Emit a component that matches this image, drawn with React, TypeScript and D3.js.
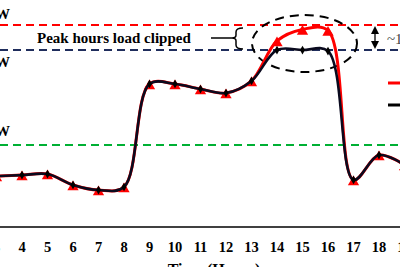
import React from "react";
import * as d3 from "d3";

const hours = [3, 4, 5, 6, 7, 8, 9, 10, 11, 12, 13, 14, 15, 16, 17, 18, 19];
const clippedLoad = [25.2, 25.7, 26.2, 20.8, 18.3, 19.8, 70.8, 70.8, 68.3, 66.3, 72.3, 87.6, 87.6, 87.1, 23.3, 35.6, 30.7];
const originalLoad = [25.2, 25.7, 26.2, 20.8, 18.3, 19.8, 70.8, 70.8, 68.3, 66.3, 72.3, 92.1, 97.8, 97.3, 23.3, 35.6, 30.7];
const tickLabels = ["3", "4", "5", "6", "7", "8", "9", "10", "11", "12", "13", "14", "15", "16", "17", "18", "19"];
const thresholds = [
  { value: 100, label: "100 kW", color: "#ff0000" },
  { value: 87.6, label: "87.6 kW", color: "#1f2d5c" },
  { value: 40.6, label: "40.6 kW", color: "#00b034" },
];
const annotationText = "Peak hours load clipped";
const axisTitle = "Time (Hours)";

const W = 400;
const H = 267;
const FONT = "'Liberation Serif', 'Times New Roman', serif";

export default function App() {
  const x = d3.scaleLinear().domain([4, 18]).range([22, 379]);
  const y = d3.scaleLinear().domain([0, 100]).range([227, 25]);
  const line = d3
    .line<number>()
    .x((_, i) => x(hours[i]))
    .y((d) => y(d))
    .curve(d3.curveCatmullRom.alpha(0.5));
  const tri = d3.symbol().type(d3.symbolTriangle).size(55)()!;
  const dia = d3.symbol().type(d3.symbolDiamond).size(22)()!;

  const axisY = y(0);
  const yRed = y(thresholds[0].value);
  const yNavy = y(thresholds[1].value);
  const arrowX = 375;

  return (
    <svg
      width={W}
      height={H}
      style={{ position: "absolute", left: 0, top: 0, display: "block" }}
      fontFamily={FONT}
    >
      <rect width={W} height={H} fill="#fff" />
      {thresholds.map((t, i) => (
        <g key={i}>
          <line
            x1={0}
            x2={W}
            y1={y(t.value)}
            y2={y(t.value)}
            stroke={t.color}
            strokeWidth={2}
            strokeDasharray="8,5"
          />
          <text
            x={10}
            y={y(t.value) - (i === 2 ? 9 : i === 1 ? -17 : 6)}
            textAnchor="end"
            fontSize={15}
            fontWeight="bold"
            fill="#000"
          >
            {t.label}
          </text>
        </g>
      ))}

      {/* annotation */}
      <text x={37} y={43} fontSize={15} fontWeight="bold" fill="#000">
        {annotationText}
      </text>
      <line x1={211} x2={232} y1={38} y2={38} stroke="#000" strokeWidth={1.5} />
      <path
        d="M243,28 Q236,28 236,32 L236,35 Q236,38 232,38 Q236,38 236,41 L236,45 Q236,49 243,49"
        fill="none"
        stroke="#000"
        strokeWidth={1.5}
      />
      <ellipse
        cx={304.5}
        cy={43.5}
        rx={52.5}
        ry={28.5}
        fill="none"
        stroke="#000"
        strokeWidth={2}
        strokeDasharray="9,6"
      />

      {/* double arrow */}
      <line x1={arrowX} x2={arrowX} y1={yRed + 4} y2={yNavy - 4} stroke="#000" strokeWidth={1.3} />
      <path d={`M${arrowX},${yRed + 1} L${arrowX - 4},${yRed + 9} L${arrowX + 4},${yRed + 9} Z`} fill="#000" />
      <path d={`M${arrowX},${yNavy - 1} L${arrowX - 4},${yNavy - 9} L${arrowX + 4},${yNavy - 9} Z`} fill="#000" />
      <text x={387} y={44} fontSize={15} fill="#444">
        ~10 kW
      </text>

      {/* legend */}
      <line x1={388} x2={420} y1={83} y2={83} stroke="#ff0000" strokeWidth={3} />
      <line x1={388} x2={420} y1={105} y2={105} stroke="#000" strokeWidth={3} />

      {/* series */}
      <path d={line(originalLoad)!} fill="none" stroke="#ff0000" strokeWidth={3} />
      {originalLoad.map((v, i) => (
        <path key={"t" + i} d={tri} transform={`translate(${x(hours[i])},${y(v) + 2})`} fill="#ff0000" />
      ))}
      <path d={line(clippedLoad)!} fill="none" stroke="#0a0a1e" strokeWidth={2.6} />
      {clippedLoad.map((v, i) => (
        <path key={"d" + i} d={dia} transform={`translate(${x(hours[i])},${y(v)})`} fill="#000" />
      ))}

      {/* x axis */}
      <line x1={0} x2={W} y1={axisY} y2={axisY} stroke="#000" strokeWidth={1.6} />
      {hours.map((h, i) => (
        <text
          key={"l" + i}
          x={x(h)}
          y={252}
          textAnchor="middle"
          fontSize={14.5}
          fontWeight="bold"
          fill="#000"
        >
          {tickLabels[i]}
        </text>
      ))}
      <text x={214} y={275} textAnchor="middle" fontSize={16} fontWeight="bold" fill="#000">
        {axisTitle}
      </text>
    </svg>
  );
}
